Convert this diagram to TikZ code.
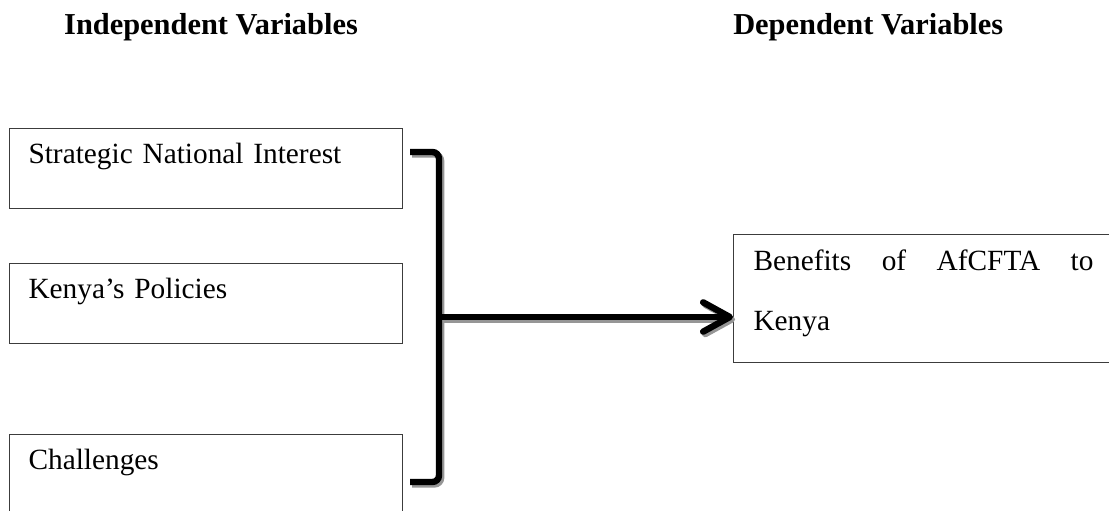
\documentclass[tikz,border=0pt]{standalone}
\usepackage{fontspec}
\setmainfont{Liberation Serif}
\usepackage{xcolor}
\usetikzlibrary{arrows.meta,positioning,calc}
\definecolor{LineGray}{RGB}{60,60,60}
\definecolor{ShadowGray}{RGB}{150,150,150}
\tikzset{
  ivbox/.style={draw=LineGray,line width=0.8pt,anchor=north west,inner xsep=14.25pt,inner ysep=0pt,
    text width=266.25pt,align=left,text height=26.25pt,text depth=33.75pt,font=\fontsize{22}{26}\selectfont},
  dvbox/.style={draw=LineGray,line width=0.8pt,anchor=north west,inner xsep=15pt,inner ysep=0pt,
    text width=255pt,align=justify,text height=27pt,text depth=69pt,font=\fontsize{22}{45}\selectfont},
  head/.style={anchor=base,font=\fontsize{22.8}{26}\selectfont\bfseries,inner sep=0pt},
  brk/.style={line width=4.8pt,rounded corners=5pt,line cap=butt},
  arr/.style={line width=4.8pt,-{Straight Barb[round,length=20pt,width=22pt]}},
  shdw/.style={draw=ShadowGray,transform canvas={xshift=1.6pt,yshift=-1.8pt}},
}
\begin{document}
\begin{tikzpicture}[x=0.75pt,y=-0.75pt]
    \useasboundingbox (0,0) rectangle (1109,510);
    \clip (0,0) rectangle (1109,510);
    %% Headings
    \node[head] (ivhead) at (211,35) {Independent Variables};
    \node[head,anchor=base west] (dvhead) at (733,35) {Dependent Variables};
    %% Independent variables
    \node[ivbox] (sni)  at (9,128) {Strategic National Interest};
    \node[ivbox] (pol)  at (9,263) {Kenya’s Policies};
    \node[ivbox] (chal) at (9,434) {Challenges};
    %% Dependent variable
    \node[dvbox] (ben) at (733,234) {Benefits of AfCFTA to\linebreak Kenya};
    %% Bracket
    \coordinate (btop) at ($(sni.north east)+(7,24)$);
    \coordinate (bbot) at ($(chal.north east)+(7,48)$);
    \coordinate (join) at (439,317);
    \draw[brk,shdw] (btop) -- (btop -| join) -- (bbot -| join) -- (bbot);
    \draw[arr,shdw] (join) -- (join -| ben.west);
    \draw[brk] (btop) -- (btop -| join) -- (bbot -| join) -- (bbot);
    %% Arrow
    \draw[arr] (join) -- (join -| ben.west);
  \end{tikzpicture}
\end{document}
